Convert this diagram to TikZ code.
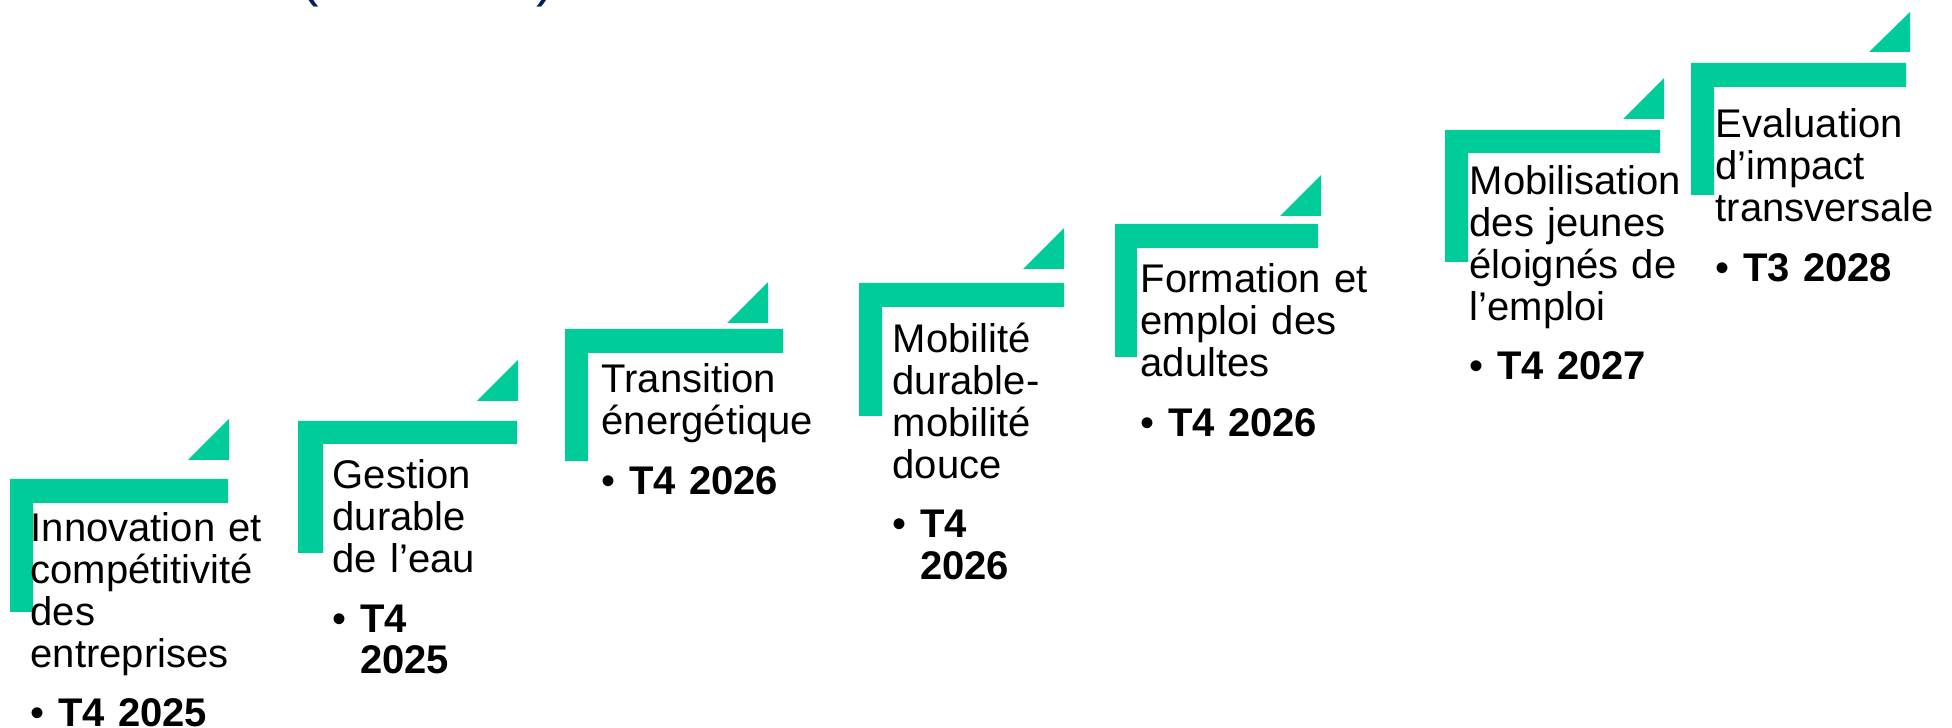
\documentclass[tikz,border=0pt]{standalone}
\usepackage{fontspec}
\setmainfont{Liberation Sans}
\usepackage{tikz}
\usetikzlibrary{positioning,calc}
\definecolor{mint}{RGB}{0,204,153}
\definecolor{titleblue}{RGB}{0,32,96}

\begin{document}
\begin{tikzpicture}[stepbar/.style={fill=mint}, steptext/.style={anchor=base west, inner sep=0pt, text width=2.6cm, align=left, font=\fontsize{11.38pt}{11.87pt}\selectfont}]
				\clip (0,0) rectangle (19.52,7.28);
				\node[anchor=base west, inner sep=0pt, text=titleblue, font=\fontsize{15.9pt}{18pt}\selectfont] (lpar) at (3.00,7.32) {(};\node[anchor=base west, inner sep=0pt, text=titleblue, font=\fontsize{15.9pt}{18pt}\selectfont] (rpar) at (5.36,7.32) {)};
				\fill[stepbar] (0.10,2.49) -- (2.28,2.49) -- (2.28,2.25) -- (0.33,2.25) -- (0.33,1.16) -- (0.10,1.16) -- cycle;\fill[stepbar] (1.88,2.68) -- (2.29,2.68) -- (2.29,3.09) -- cycle;
				\node[steptext] (innov) at (0.30,1.86) {Innovation et\\compétitivité\\des\\entreprises\\[0.18cm]\textbullet\ \textbf{T4 2025}};
				\fill[stepbar] (2.98,3.07) -- (5.17,3.07) -- (5.17,2.84) -- (3.23,2.84) -- (3.23,1.75) -- (2.98,1.75) -- cycle;\fill[stepbar] (4.77,3.27) -- (5.18,3.27) -- (5.18,3.68) -- cycle;
				\node[steptext] (eau) at (3.32,2.39) {Gestion\\durable\\de l’eau\\[0.18cm]\textbullet\ \textbf{T4}\\\hphantom{\textbullet\ }\textbf{2025}};
				\fill[stepbar] (5.65,3.99) -- (7.83,3.99) -- (7.83,3.75) -- (5.88,3.75) -- (5.88,2.67) -- (5.65,2.67) -- cycle;\fill[stepbar] (7.27,4.05) -- (7.68,4.05) -- (7.68,4.46) -- cycle;
				\node[steptext] (energie) at (6.01,3.35) {Transition\\énergétique\\[0.18cm]\textbullet\ \textbf{T4 2026}};
				\fill[stepbar] (8.59,4.45) -- (10.64,4.45) -- (10.64,4.21) -- (8.82,4.21) -- (8.82,3.12) -- (8.59,3.12) -- cycle;\fill[stepbar] (10.23,4.59) -- (10.64,4.59) -- (10.64,5.00) -- cycle;
				\node[steptext] (mobil) at (8.92,3.75) {Mobilité\\durable-\\mobilité\\douce\\[0.18cm]\textbullet\ \textbf{T4}\\\hphantom{\textbullet\ }\textbf{2026}};
				\fill[stepbar] (11.15,5.04) -- (13.18,5.04) -- (13.18,4.80) -- (11.37,4.80) -- (11.37,3.71) -- (11.15,3.71) -- cycle;\fill[stepbar] (12.80,5.12) -- (13.21,5.12) -- (13.21,5.53) -- cycle;
				\node[steptext] (formation) at (11.40,4.35) {Formation et\\emploi des\\adultes\\[0.18cm]\textbullet\ \textbf{T4 2026}};
				\fill[stepbar] (14.45,5.98) -- (16.60,5.98) -- (16.60,5.75) -- (14.68,5.75) -- (14.68,4.66) -- (14.45,4.66) -- cycle;\fill[stepbar] (16.23,6.09) -- (16.64,6.09) -- (16.64,6.50) -- cycle;
				\node[steptext] (jeunes) at (14.69,5.33) {Mobilisation\\des jeunes\\éloignés de\\l’emploi\\[0.18cm]\textbullet\ \textbf{T4 2027}};
				\fill[stepbar] (16.91,6.65) -- (19.06,6.65) -- (19.06,6.41) -- (17.14,6.41) -- (17.14,5.33) -- (16.91,5.33) -- cycle;\fill[stepbar] (18.69,6.76) -- (19.10,6.76) -- (19.10,7.16) -- cycle;
				\node[steptext] (impact) at (17.15,5.90) {Evaluation\\d’impact\\transversale\\[0.18cm]\textbullet\ \textbf{T3 2028}};
			\end{tikzpicture}
\end{document}
